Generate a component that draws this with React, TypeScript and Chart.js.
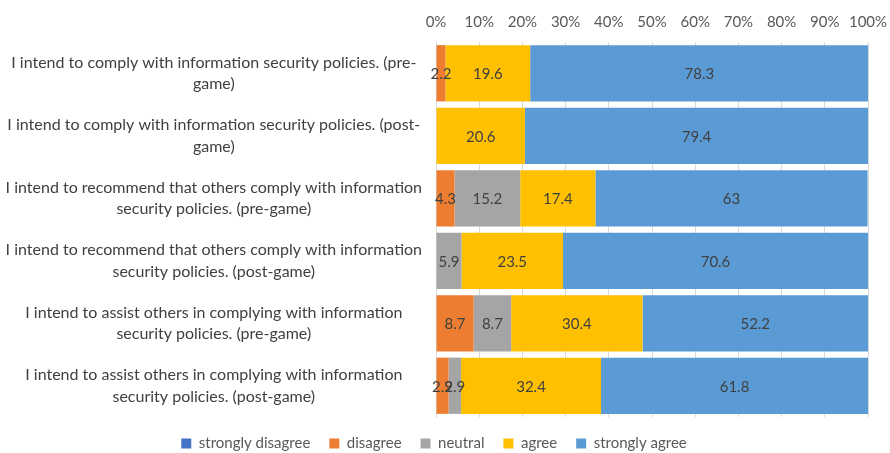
import React, { useEffect, useRef } from "react";
import { Chart, registerables } from "chart.js";

Chart.register(...registerables);

const categories: string[][] = [
  ["I intend to comply with information security policies. (pre-", "game)"],
  ["I intend to comply with information security policies. (post-", "game)"],
  ["I intend to recommend that others comply with information", "security policies. (pre-game)"],
  ["I intend to recommend that others comply with information", "security policies. (post-game)"],
  ["I intend to assist others in complying with information", "security policies. (pre-game)"],
  ["I intend to assist others in complying with information", "security policies. (post-game)"],
];

const stronglyDisagree = [0, 0, 0, 0, 0, 0];
const disagree = [2.2, 0, 4.3, 0, 8.7, 2.9];
const neutral = [0, 0, 15.2, 5.9, 8.7, 2.9];
const agree = [19.6, 20.6, 17.4, 23.5, 30.4, 32.4];
const stronglyAgree = [78.3, 79.4, 63, 70.6, 52.2, 61.8];

const xTicks = [0, 10, 20, 30, 40, 50, 60, 70, 80, 90, 100];

const seriesNames = ["strongly disagree", "disagree", "neutral", "agree", "strongly agree"];
const seriesColors = ["#4472C4", "#ED7D31", "#A5A5A5", "#FFC000", "#5B9BD5"];

const FONT = "Lato, 'Liberation Sans', sans-serif";

const labelPlugin = {
  id: "segLabels",
  afterDatasetsDraw(chart: any) {
    const ctx = chart.ctx;
    ctx.save();
    ctx.font = `15px ${FONT}`;
    ctx.fillStyle = "#404040";
    ctx.textAlign = "center";
    ctx.textBaseline = "middle";
    chart.data.datasets.forEach((ds: any, di: number) => {
      const meta = chart.getDatasetMeta(di);
      meta.data.forEach((el: any, i: number) => {
        const v = ds.data[i];
        if (!v) return;
        const { x, y, base } = el.getProps(["x", "y", "base"], true);
        ctx.fillText(String(v), (x + base) / 2, y + 1);
      });
    });
    ctx.restore();
  },
};

export default function App() {
  const ref = useRef<HTMLCanvasElement | null>(null);
  useEffect(() => {
    if (!ref.current) return;
    const values = [stronglyDisagree, disagree, neutral, agree, stronglyAgree];
    const chart = new Chart(ref.current, {
      type: "bar",
      data: {
        labels: categories,
        datasets: values.map((d, i) => ({
          label: seriesNames[i],
          data: d,
          backgroundColor: seriesColors[i],
          borderWidth: 0,
          categoryPercentage: 1,
          barPercentage: 0.9,
        })),
      },
      options: {
        indexAxis: "y",
        animation: false,
        responsive: false,
        maintainAspectRatio: false,
        layout: { padding: { top: 2, right: 22, left: 0, bottom: 0 } },
        scales: {
          x: {
            position: "top",
            stacked: true,
            min: 0,
            max: 100,
            afterBuildTicks: (s: any) => {
              s.ticks = xTicks.map((v) => ({ value: v }));
            },
            afterFit: (s: any) => {
              s.paddingLeft = 0;
              s.paddingRight = 0;
            },
            ticks: {
              callback: (v: any) => v + "%",
              color: "#595959",
              font: { family: FONT, size: 15 },
              padding: 11,
              maxRotation: 0,
              minRotation: 0,
              autoSkip: false,
            },
            grid: { color: "#d9d9d9", drawTicks: false },
            border: { display: false },
          },
          y: {
            stacked: true,
            ticks: {
              color: "#404040",
              font: { family: FONT, size: 16, lineHeight: 1.35 },
              crossAlign: "center",
              padding: 6,
            },
            grid: { display: false },
            border: { display: true, color: "#d9d9d9" },
            afterFit: (s: any) => {
              s.width = 436;
              s.paddingTop = 0;
              s.paddingBottom = 0;
            },
          },
        },
        plugins: {
          legend: {
            position: "bottom",
            labels: {
              boxWidth: 10,
              boxHeight: 10,
              color: "#595959",
              font: { family: FONT, size: 15 },
              padding: 19,
            },
          },
          tooltip: { enabled: false },
        },
      },
      plugins: [labelPlugin],
    });
    return () => chart.destroy();
  }, []);
  return (
    <div style={{ position: "fixed", left: 0, top: 0, width: 890, height: 453, overflow: "hidden", background: "#fff" }}>
      <canvas ref={ref} width={890} height={461} style={{ display: "block" }} />
    </div>
  );
}
